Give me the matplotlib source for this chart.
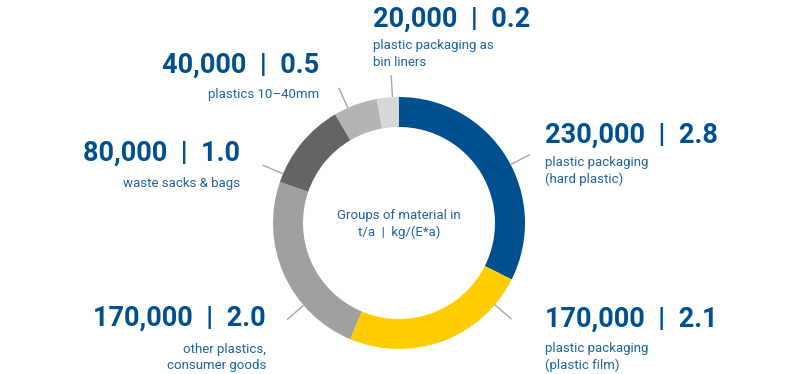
import matplotlib
matplotlib.use("Agg")
import matplotlib.pyplot as plt
import numpy as np

# ---- data ----
categories = [
    "plastic packaging\n(hard plastic)",
    "plastic packaging\n(plastic film)",
    "other plastics,\nconsumer goods",
    "waste sacks & bags",
    "plastics 10\u201340mm",
    "plastic packaging as\nbin liners",
]
tonnes_per_year = [230000, 170000, 170000, 80000, 40000, 20000]
kg_per_capita = [2.8, 2.1, 2.0, 1.0, 0.5, 0.2]
colors = ["#00508f", "#ffcc00", "#a0a09f", "#646464", "#b4b4b4", "#d7d7d7"]
center_lines = ["Groups of material in", "t/a  |  kg/(E*a)"]

# ---- layout (pixel positions) ----
W, H = 798, 374
cx, cy, R, ring = 399, 223, 126, 30
# (x, baseline of big number, baseline of first caption line, alignment)
label_pos = [
    (545, 143, 166, "left"),
    (545, 327, 352, "left"),
    (266, 326, 353, "right"),
    (240, 161, 187, "right"),
    (319, 73, 98, "right"),
    (373, 27, 49, "left"),
]
line_step = 16.5
leader_angles = [27.6, -40.5, 220.8, 157, 114, 93]
leader_len = 22

big_color = "#004f8e"
small_color = "#1f63a0"

fig = plt.figure(figsize=(W / 100, H / 100), dpi=100)
ax = fig.add_axes([0, 0, 1, 1])

def Y(y):
    return H - y

ax.pie(tonnes_per_year, colors=colors, startangle=90, counterclock=False,
       center=(cx, Y(cy)), radius=R, wedgeprops=dict(width=ring, linewidth=0),
       frame=True)
ax.set_xlim(0, W)
ax.set_ylim(0, H)
ax.set_aspect("equal")
ax.axis("off")

for ang in leader_angles:
    a = np.deg2rad(ang)
    x0, y0 = cx + R * np.cos(a), Y(cy) + R * np.sin(a)
    x1, y1 = cx + (R + leader_len) * np.cos(a), Y(cy) + (R + leader_len) * np.sin(a)
    ax.plot([x0, x1], [y0, y1], color="#a6a6a6", lw=1.0, solid_capstyle="butt")

for cat, t, k, (x, yb, ys, ha) in zip(categories, tonnes_per_year, kg_per_capita, label_pos):
    ax.text(x, Y(yb), f"{t:,}  |  {k:.1f}", ha=ha, va="baseline",
            fontsize=19.5, fontweight="bold", family="Roboto", color=big_color)
    for i, line in enumerate(cat.split("\n")):
        ax.text(x, Y(ys + i * line_step), line, ha=ha, va="baseline",
                fontsize=9.5, family="Roboto", color=small_color)

for i, line in enumerate(center_lines):
    ax.text(cx, Y(219 + i * 17), line, ha="center", va="baseline",
            fontsize=9.5, family="Roboto", color=small_color)

fig.savefig("out.png", dpi=100)
